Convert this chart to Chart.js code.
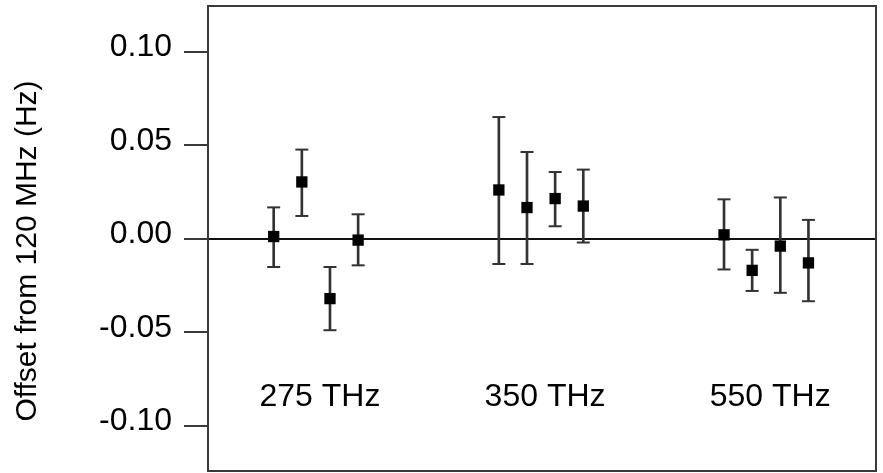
<!DOCTYPE html>
<html>
<head>
<meta charset="utf-8">
<script src="https://cdn.jsdelivr.net/npm/chart.js@4/dist/chart.umd.min.js"></script>
<style>
  html, body { margin: 0; padding: 0; background: #fff; }
  #wrap { width: 883px; height: 473px; }
</style>
</head>
<body>
<div id="wrap"><canvas id="c" width="883" height="473"></canvas></div>
<script>
// ---- data ----
const groupLabels = ['275 THz', '350 THz', '550 THz'];
const groupOf     = [0, 0, 0, 0, 1, 1, 1, 1, 2, 2, 2, 2];
const slotInGroup = [0, 1, 2, 3, 0, 1, 2, 3, 0, 1, 2, 3];
const offsetHz = [0.0011, 0.0303, -0.0321, -0.0008, 0.0260, 0.0166, 0.0214, 0.0174, 0.0020, -0.0170, -0.0040, -0.0130];
const upperHz  = [0.0167, 0.0476, -0.0152, 0.0130, 0.0650, 0.0463, 0.0356, 0.0369, 0.0210, -0.0060, 0.0220, 0.0100];
const lowerHz  = [-0.0152, 0.0121, -0.0490, -0.0143, -0.0136, -0.0136, 0.0066, -0.0021, -0.0165, -0.0280, -0.0290, -0.0335];
const yTickValues = [-0.10, -0.05, 0.00, 0.05, 0.10];
const yTitle = 'Offset from 120 MHz (Hz)';
const groupLabelLevel = -0.085;

const SLOTS_PER_GROUP = 8;
const xOf = i => groupOf[i] * SLOTS_PER_GROUP + slotInGroup[i];

const markers = offsetHz.map((v, i) => ({ x: xOf(i), y: v }));
const bars    = offsetHz.map((v, i) => ({ x: xOf(i), y: [lowerHz[i], upperHz[i]] }));
const capsHi  = upperHz.map((v, i) => ({ x: xOf(i), y: v }));
const capsLo  = lowerHz.map((v, i) => ({ x: xOf(i), y: v }));

const FONT = "'Liberation Sans', Arial, sans-serif";

const framePlugin = {
  id: 'frame',
  beforeDatasetsDraw(chart) {
    const { ctx, chartArea: a } = chart;
    ctx.save();
    ctx.strokeStyle = '#3a3a3a';
    ctx.lineWidth = 2;
    ctx.strokeRect(a.left, a.top, a.right - a.left, a.bottom - a.top);
    ctx.restore();
  },
  afterDatasetsDraw(chart) {
    const { ctx } = chart;
    const xs = chart.scales.x, ys = chart.scales.y;
    ctx.save();
    ctx.fillStyle = '#000';
    ctx.font = '32px ' + FONT;
    ctx.textAlign = 'center';
    ctx.textBaseline = 'middle';
    groupLabels.forEach((lab, g) => {
      const cx = xs.getPixelForValue(g * SLOTS_PER_GROUP + 1.5) + 4;
      const cy = ys.getPixelForValue(groupLabelLevel);
      ctx.fillText(lab, cx, cy);
    });
    ctx.restore();
  }
};

new Chart(document.getElementById('c'), {
  type: 'scatter',
  data: {
    datasets: [
      {
        type: 'bar',
        data: bars,
        backgroundColor: '#333',
        borderWidth: 0,
        barThickness: 2,
        order: 3
      },
      {
        type: 'scatter',
        data: capsHi,
        pointStyle: 'line',
        pointRadius: 6.5,
        borderColor: '#333',
        borderWidth: 2,
        order: 2
      },
      {
        type: 'scatter',
        data: capsLo,
        pointStyle: 'line',
        pointRadius: 6.5,
        borderColor: '#333',
        borderWidth: 2,
        order: 2
      },
      {
        type: 'scatter',
        data: markers,
        pointStyle: 'rect',
        pointRadius: 8,
        backgroundColor: '#000',
        borderWidth: 0,
        order: 1
      }
    ]
  },
  options: {
    responsive: false,
    animation: false,
    devicePixelRatio: 1,
    layout: { autoPadding: false, padding: { top: 6, right: 7, bottom: 2, left: 0 } },
    plugins: { legend: { display: false }, tooltip: { enabled: false } },
    scales: {
      x: {
        type: 'linear',
        display: false,
        offset: false,
        min: -2.334,
        max: 21.4
      },
      y: {
        type: 'linear',
        min: -0.1243,
        max: 0.1244,
        afterFit(scale) {
          scale.width = 208;
          scale.paddingTop = 0;
          scale.paddingBottom = 0;
        },
        afterBuildTicks(scale) { scale.ticks = yTickValues.map(v => ({ value: v })); },
        border: { display: false },
        grid: {
          drawOnChartArea: true,
          drawTicks: true,
          tickLength: 24,
          tickWidth: 2,
          tickColor: '#3a3a3a',
          lineWidth: 2,
          color: c => (c.tick && Math.abs(c.tick.value) < 1e-9) ? '#111' : 'rgba(0,0,0,0)'
        },
        ticks: {
          padding: 12,
          labelOffset: -4,
          color: '#000',
          font: { family: FONT, size: 32 },
          callback: v => Number(v).toFixed(2)
        },
        title: {
          display: true,
          text: yTitle + '\u00A0\u00A0\u00A0',
          color: '#000',
          font: { family: FONT, size: 30 },
          padding: { top: 10, bottom: 0 }
        }
      }
    }
  },
  plugins: [framePlugin]
});
</script>
</body>
</html>
